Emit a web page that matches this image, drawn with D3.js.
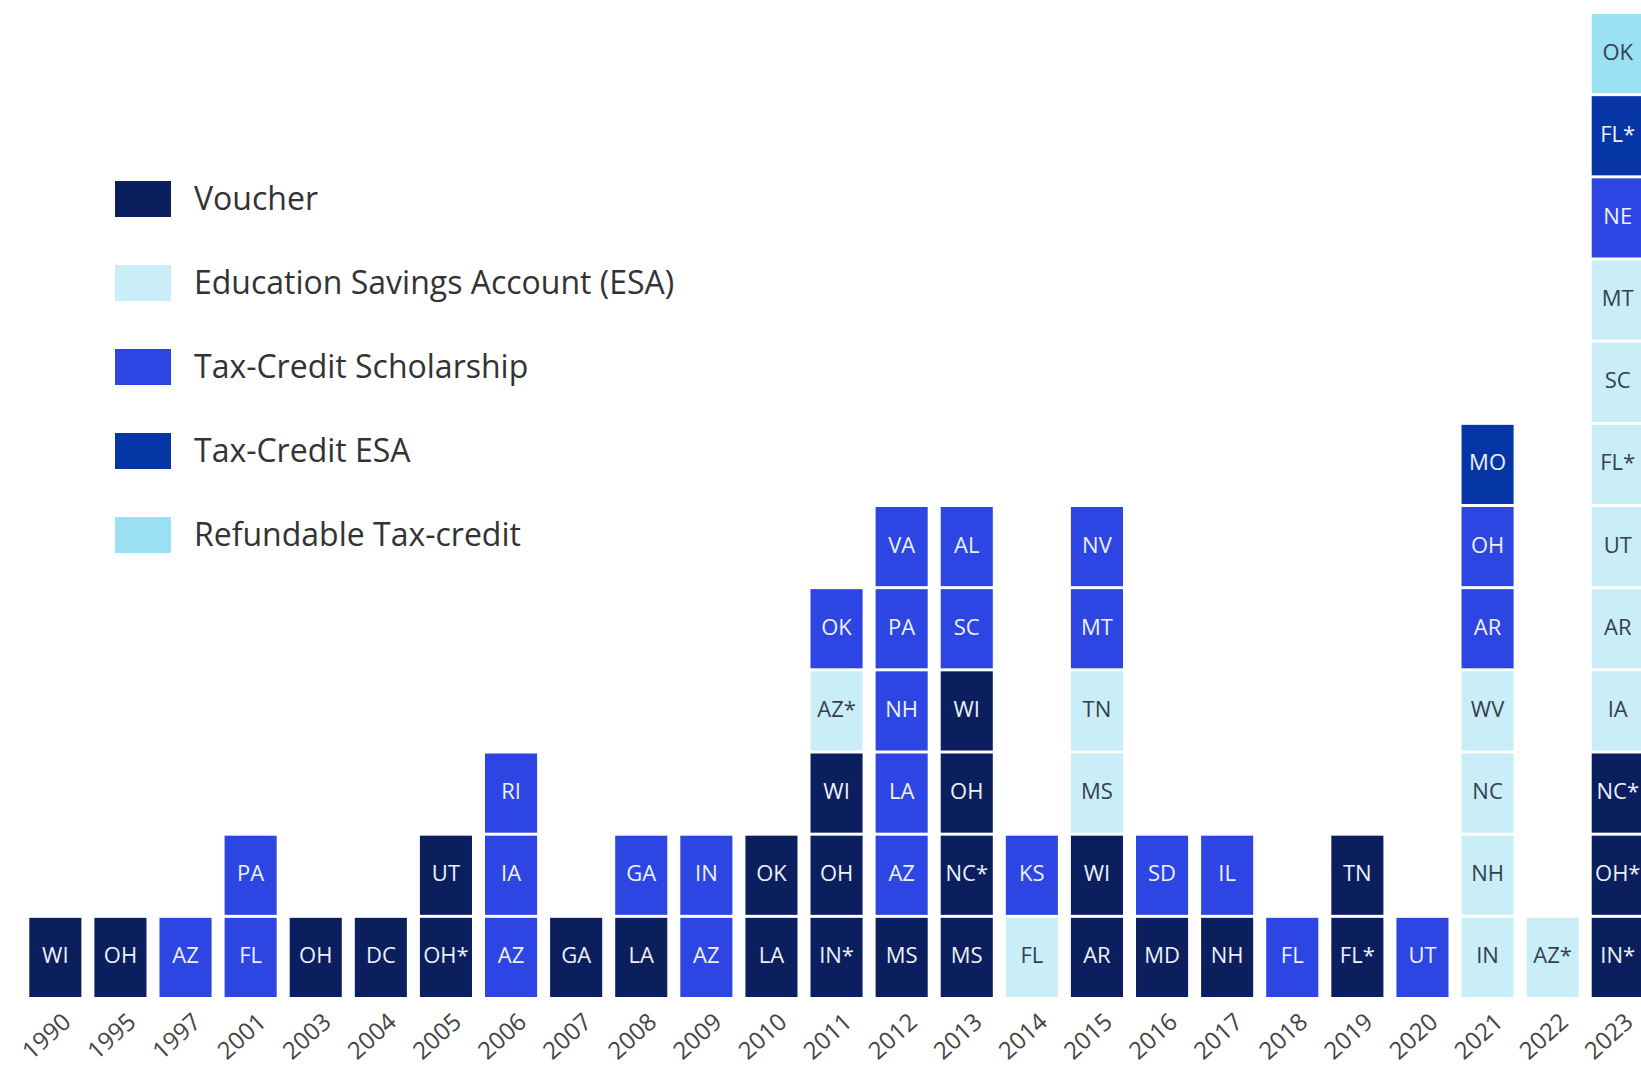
<!DOCTYPE html>
<html>
<head>
<meta charset="utf-8">
<script src="https://cdn.jsdelivr.net/npm/d3@7"></script>
<style>
  html, body { margin: 0; padding: 0; background: #ffffff; }
  svg { display: block; }
</style>
</head>
<body>
<svg id="chart" width="1641" height="1068"></svg>
<script>
// ---- Data ----
const years = ["1990","1995","1997","2001","2003","2004","2005","2006","2007","2008","2009","2010","2011","2012","2013","2014","2015","2016","2017","2018","2019","2020","2021","2022","2023"];

// Program types (legend order)
const typeKeys = ["V", "ESA", "TCS", "TCESA", "RTC"];
const typeLabels = ["Voucher", "Education Savings Account (ESA)", "Tax-Credit Scholarship", "Tax-Credit ESA", "Refundable Tax-credit"];

// Programs enacted each year, stacked bottom to top: [state, type]
const programs = [
  [["WI","V"]],
  [["OH","V"]],
  [["AZ","TCS"]],
  [["FL","TCS"],["PA","TCS"]],
  [["OH","V"]],
  [["DC","V"]],
  [["OH*","V"],["UT","V"]],
  [["AZ","TCS"],["IA","TCS"],["RI","TCS"]],
  [["GA","V"]],
  [["LA","V"],["GA","TCS"]],
  [["AZ","TCS"],["IN","TCS"]],
  [["LA","V"],["OK","V"]],
  [["IN*","V"],["OH","V"],["WI","V"],["AZ*","ESA"],["OK","TCS"]],
  [["MS","V"],["AZ","TCS"],["LA","TCS"],["NH","TCS"],["PA","TCS"],["VA","TCS"]],
  [["MS","V"],["NC*","V"],["OH","V"],["WI","V"],["SC","TCS"],["AL","TCS"]],
  [["FL","ESA"],["KS","TCS"]],
  [["AR","V"],["WI","V"],["MS","ESA"],["TN","ESA"],["MT","TCS"],["NV","TCS"]],
  [["MD","V"],["SD","TCS"]],
  [["NH","V"],["IL","TCS"]],
  [["FL","TCS"]],
  [["FL*","V"],["TN","V"]],
  [["UT","TCS"]],
  [["IN","ESA"],["NH","ESA"],["NC","ESA"],["WV","ESA"],["AR","TCS"],["OH","TCS"],["MO","TCESA"]],
  [["AZ*","ESA"]],
  [["IN*","V"],["OH*","V"],["NC*","V"],["IA","ESA"],["AR","ESA"],["UT","ESA"],["FL*","ESA"],["SC","ESA"],["MT","ESA"],["NE","TCS"],["FL*","TCESA"],["OK","RTC"]]
];

// ---- Styles ----
const fillColors = { V: "#0b1f5e", ESA: "#c9eef8", TCS: "#2d45e2", TCESA: "#0636a6", RTC: "#9be0f3" };
const textColors = { V: "#eef1f8", ESA: "#34404f", TCS: "#eef1f8", TCESA: "#eef1f8", RTC: "#34404f" };
const FONT = "'Open Sans', 'Noto Sans', sans-serif";

const svg = d3.select("#chart");

const x = d3.scaleBand().domain(years).range([29.3, 1643.8]).paddingInner(0.2).paddingOuter(0);
const maxRows = 12;
const y = d3.scaleLinear().domain([0, maxRows]).range([997, 11]);
const rowGap = 3;

// flatten cells
const cells = [];
programs.forEach((stack, i) => {
  stack.forEach((p, j) => cells.push({ year: years[i], row: j, state: p[0], type: p[1] }));
});

const g = svg.append("g");
const cell = g.selectAll("g.cell").data(cells).join("g").attr("class", "cell");
cell.append("rect")
  .attr("x", d => x(d.year))
  .attr("width", x.bandwidth())
  .attr("y", d => y(d.row + 1) + rowGap)
  .attr("height", d => y(d.row) - y(d.row + 1) - rowGap)
  .attr("fill", d => fillColors[d.type]);
cell.append("text")
  .attr("x", d => x(d.year) + x.bandwidth() / 2)
  .attr("y", d => (y(d.row + 1) + rowGap + y(d.row)) / 2 - 3)
  .attr("text-anchor", "middle")
  .attr("dominant-baseline", "central")
  .attr("font-family", FONT)
  .attr("font-size", 22)
  .attr("fill", d => textColors[d.type])
  .text(d => d.state);

// x axis labels
const xAxis = d3.axisBottom(x).tickSize(0).tickPadding(0);
const axisG = svg.append("g").attr("transform", "translate(0,1000)").call(xAxis);
axisG.select(".domain").remove();
axisG.selectAll("text")
  .attr("font-family", FONT)
  .attr("font-size", 24)
  .attr("fill", "#444")
  .attr("text-anchor", "end")
  .attr("dy", null)
  .attr("y", 0)
  .attr("transform", "translate(17,24) rotate(-42)");

// legend
const legend = svg.append("g");
const ly = d3.scalePoint().domain(typeKeys).range([199, 535]);
const li = legend.selectAll("g").data(typeKeys).join("g")
  .attr("transform", d => `translate(115,${ly(d)})`);
li.append("rect").attr("x", 0).attr("y", -18).attr("width", 56).attr("height", 36)
  .attr("fill", d => fillColors[d]);
li.append("text").attr("x", 79).attr("y", -2)
  .attr("dominant-baseline", "central")
  .attr("font-family", FONT).attr("font-size", 32).attr("fill", "#333")
  .text((d, i) => typeLabels[i]);
</script>
</body>
</html>
